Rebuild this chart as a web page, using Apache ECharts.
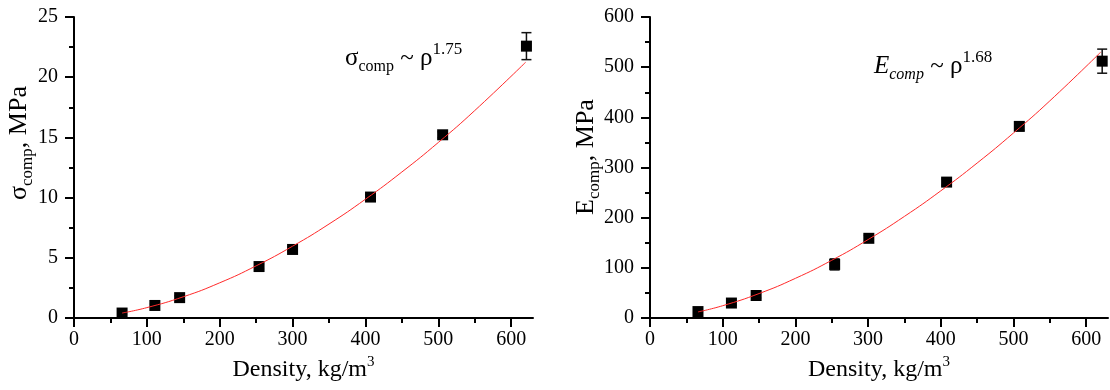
<!DOCTYPE html>
<html><head><meta charset="utf-8">
<script src="https://cdn.jsdelivr.net/npm/echarts@6/dist/echarts.min.js"></script>
<style>html,body{margin:0;padding:0;background:#fff}#c{width:1110px;height:390px}</style>
</head><body><div id="c"></div>
<script>
// ---- data ----
const xMajorTicks = [0, 100, 200, 300, 400, 500, 600];
const xMinorTicks = [50, 150, 250, 350, 450, 550];

const densityLeft = [66, 111, 145, 254, 300, 407, 506, 621];
const sigmaComp   = [0.42, 1.05, 1.7, 4.28, 5.7, 10.05, 15.22, 22.58];
const sigmaErr    = [0.1, 0.12, 0.15, 0.2, 0.2, 0.2, 0.25, 1.12];

const densityRight = [66, 112, 146, 254, 301, 408, 508, 622];
const eComp        = [13, 30, 45, 107, 159, 271, 382, 512];
const eErr         = [3, 4, 5, 11, 6, 6, 8, 24];

const fitDensity = [66, 100, 150, 200, 250, 300, 350, 400, 450, 500, 550, 620];
const sigmaFit   = [0.42, 0.87, 1.77, 2.93, 4.34, 5.97, 7.81, 9.87, 12.13, 14.58, 17.23, 21.25];
const eFit       = [12.3, 24.7, 48.9, 79.2, 115.2, 156.5, 202.7, 253.6, 309.0, 368.9, 432.9, 530];

// ---- styles ----
const FF = 'Liberation Serif';
const AX = { color: '#000', width: 2 };

function pairs(xs, ys) { return xs.map((x, i) => [x, ys[i]]); }
function errData(xs, ys, es) { return xs.map((x, i) => [x, ys[i] - es[i], ys[i] + es[i]]); }

function renderErr(params, api) {
  const x = api.value(0), lo = api.value(1), hi = api.value(2);
  const p1 = api.coord([x, hi]), p2 = api.coord([x, lo]);
  const hw = 5;
  const st = { stroke: '#111', lineWidth: 1.5 };
  return { type: 'group', children: [
    { type: 'line', shape: { x1: p1[0], y1: p1[1], x2: p2[0], y2: p2[1] }, style: st },
    { type: 'line', shape: { x1: p1[0] - hw, y1: p1[1], x2: p1[0] + hw, y2: p1[1] }, style: st },
    { type: 'line', shape: { x1: p2[0] - hw, y1: p2[1], x2: p2[0] + hw, y2: p2[1] }, style: st }
  ]};
}

function xMain(gi) {
  return {
    type: 'value', gridIndex: gi, min: 0, max: 630, position: 'bottom',
    axisLine: { show: true, onZero: false, lineStyle: AX },
    axisTick: { show: true, length: 9, customValues: xMajorTicks, lineStyle: AX },
    axisLabel: { customValues: xMajorTicks, fontFamily: FF, fontSize: 20, color: '#000', margin: 12 },
    splitLine: { show: false },
    name: 'Density, kg/m{sup|3}', nameLocation: 'middle', nameGap: 35,
    nameTextStyle: { fontFamily: FF, fontSize: 24, color: '#000', lineHeight: 30,
      rich: { sup: { fontFamily: FF, fontSize: 15, lineHeight: 15, verticalAlign: 'top', color: '#000' } } }
  };
}
function xMinor(gi) {
  return {
    type: 'value', gridIndex: gi, min: 0, max: 630, position: 'bottom',
    axisLine: { show: false, onZero: false },
    axisTick: { show: true, length: 5, customValues: xMinorTicks, lineStyle: AX },
    axisLabel: { show: false }, splitLine: { show: false }
  };
}
function yAx(gi, max, interval) {
  return {
    type: 'value', gridIndex: gi, min: 0, max: max, interval: interval,
    axisLine: { show: true, onZero: false, lineStyle: AX },
    axisTick: { show: true, length: 9, lineStyle: AX },
    minorTick: { show: true, splitNumber: 2, length: 5, lineStyle: AX },
    axisLabel: { fontFamily: FF, fontSize: 20, color: '#000', margin: 16 },
    splitLine: { show: false }, minorSplitLine: { show: false }
  };
}

const annRich = (fs, sub, sup, italic) => ({
  m: { fontFamily: FF, fontSize: fs, lineHeight: 34, color: '#000', fontWeight: 'normal' },
  mi: { fontFamily: FF, fontSize: fs, lineHeight: 34, color: '#000', fontStyle: 'italic', fontWeight: 'normal' },
  s: { fontFamily: FF, fontSize: sub, lineHeight: 18, verticalAlign: 'bottom', color: '#000', fontWeight: 'normal', fontStyle: italic ? 'italic' : 'normal' },
  p: { fontFamily: FF, fontSize: sup, lineHeight: 17, verticalAlign: 'top', color: '#000', fontWeight: 'normal' }
});

const option = {
  animation: false,
  backgroundColor: '#fff',
  grid: [
    { left: 74, right: 577, top: 17, bottom: 68 },
    { left: 650, right: 2, top: 17, bottom: 68 }
  ],
  xAxis: [xMain(0), xMain(1), xMinor(0), xMinor(1)],
  yAxis: [yAx(0, 25, 5), yAx(1, 600, 100)],
  title: [
    { left: 345, top: 41, padding: 0, text: '{m|σ}{s|comp}{m| ~ ρ}{p|1.75}',
      textStyle: { fontWeight: 'normal', rich: annRich(25, 16, 17, false) } },
    { left: 874, top: 49, padding: 0, text: '{mi|E}{s|comp}{m| ~ ρ}{p|1.68}',
      textStyle: { fontWeight: 'normal', rich: annRich(25, 16, 17, true) } }
  ],
  graphic: [
    { type: 'text', x: 19, y: 143, rotation: Math.PI / 2,
      style: { text: '{m|σ}{s|comp}{m|, MPa}', rich: annRich(26, 17, 17, false), align: 'center', verticalAlign: 'middle' } },
    { type: 'text', x: 586, y: 157, rotation: Math.PI / 2,
      style: { text: '{m|E}{s|comp}{m|, MPa}', rich: annRich(26, 17, 17, false), align: 'center', verticalAlign: 'middle' } }
  ],
  series: [
    { type: 'custom', xAxisIndex: 0, yAxisIndex: 0, renderItem: renderErr,
      data: errData(densityLeft, sigmaComp, sigmaErr), encode: { x: 0, y: [1, 2] }, z: 2 },
    { type: 'scatter', xAxisIndex: 0, yAxisIndex: 0, symbol: 'rect', symbolSize: 11,
      itemStyle: { color: '#000', opacity: 1 }, data: pairs(densityLeft, sigmaComp), z: 3 },
    { type: 'line', xAxisIndex: 0, yAxisIndex: 0, smooth: true, symbol: 'none',
      lineStyle: { color: '#ff2a2a', width: 1 }, data: pairs(fitDensity, sigmaFit), z: 4 },

    { type: 'custom', xAxisIndex: 1, yAxisIndex: 1, renderItem: renderErr,
      data: errData(densityRight, eComp, eErr), encode: { x: 0, y: [1, 2] }, z: 2 },
    { type: 'scatter', xAxisIndex: 1, yAxisIndex: 1, symbol: 'rect', symbolSize: 11,
      itemStyle: { color: '#000', opacity: 1 }, data: pairs(densityRight, eComp), z: 3 },
    { type: 'line', xAxisIndex: 1, yAxisIndex: 1, smooth: true, symbol: 'none',
      lineStyle: { color: '#ff2a2a', width: 1 }, data: pairs(fitDensity, eFit), z: 4 }
  ]
};
const chart = echarts.init(document.getElementById('c'), null, { renderer: 'canvas' });
chart.setOption(option);
</script></body></html>
